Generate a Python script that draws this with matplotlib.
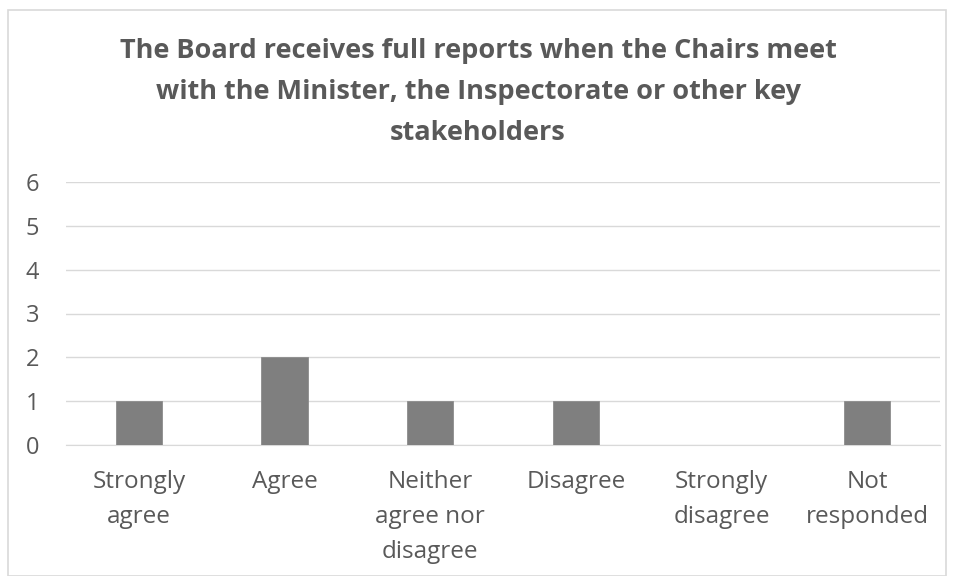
import matplotlib
matplotlib.use("Agg")
import matplotlib.pyplot as plt
from matplotlib.patches import Rectangle

categories = ["Strongly\nagree", "Agree", "Neither\nagree nor\ndisagree",
              "Disagree", "Strongly\ndisagree", "Not\nresponded"]
counts = [1, 2, 1, 1, 0, 1]
yticks = [0, 1, 2, 3, 4, 5, 6]
title = ("The Board receives full reports when the Chairs meet\n"
         "with the Minister, the Inspectorate or other key\n"
         "stakeholders")

plt.rcParams["font.family"] = ["Open Sans", "DejaVu Sans"]

W, H = 956, 576
fig = plt.figure(figsize=(W / 100, H / 100), dpi=100)

# chart frame
fig.patches.append(Rectangle((8 / W, 0 / H), 938 / W, (H - 10) / H,
                             transform=fig.transFigure, fill=False,
                             edgecolor="#d9d9d9", linewidth=1.2))

ax = fig.add_axes([66 / W, 1 - 445 / H, 874 / W, (445 - 182) / H])
x = range(len(categories))
ax.bar(x, counts, width=0.316, color="#7f7f7f", edgecolor="#8c8c8c",
       linewidth=0.6, zorder=3)
ax.set_xlim(-0.5, len(categories) - 0.5)
ax.set_ylim(0, 6)
ax.set_yticks(yticks)
ax.set_xticks(list(x))
ax.set_xticklabels(categories, fontsize=17.5, color="#595959", linespacing=1.62)
ax.tick_params(axis="y", labelsize=17, labelcolor="#595959", length=0, pad=29)
ax.tick_params(axis="x", length=0, pad=18)
for lbl in ax.get_yticklabels():
    lbl.set_horizontalalignment("left")
ax.grid(axis="y", color="#d9d9d9", linewidth=1.0, zorder=0)
for side in ["top", "right", "left"]:
    ax.spines[side].set_visible(False)
ax.spines["bottom"].set_color("#d9d9d9")

fig.text(0.5, 1 - 92 / H, title, ha="center", va="center", fontsize=19.5,
         fontweight="bold", color="#595959", linespacing=1.74)

fig.savefig("out.png", dpi=100)
